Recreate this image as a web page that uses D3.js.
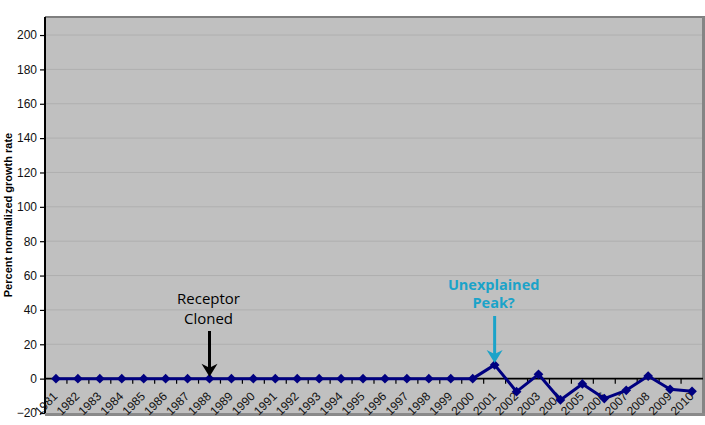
<!DOCTYPE html>
<html><head><meta charset="utf-8">
<script src="https://cdn.jsdelivr.net/npm/d3@7"></script>
<style>body{margin:0;background:#fff}svg{display:block}</style>
</head><body>
<svg id="c" width="705" height="425"></svg>
<script>
const years = ["1981","1982","1983","1984","1985","1986","1987","1988","1989","1990","1991","1992","1993","1994","1995","1996","1997","1998","1999","2000","2001","2002","2003","2004","2005","2006","2007","2008","2009","2010"];
const values = [0,0,0,0,0,0,0,0,0,0,0,0,0,0,0,0,0,0,0,0,8,-7.6,2.5,-12.4,-3.1,-11.6,-6.8,1.5,-6.2,-7.4];
const yTicks = [-20,0,20,40,60,80,100,120,140,160,180,200];
const annotations = [
  {year:"1988", value:0, lines:["Receptor","Cloned"], color:"#000", weight:"normal"},
  {year:"2001", value:8, lines:["Unexplained","Peak?"], color:"#1ba3c9", weight:"bold"}
];

const svg = d3.select("#c");
const L=45, R=703, T=17, B=413;
const x = d3.scaleBand().domain(years).range([L,R]).padding(0);
const y = d3.scaleLinear().domain([-20,210.5]).range([B,T]);
const cx = d => x(d)+x.bandwidth()/2;
const FONT = "Liberation Sans, Arial, sans-serif";

svg.append("rect").attr("x",L).attr("y",T).attr("width",R-L).attr("height",B-T).attr("fill","#c0c0c0");
svg.append("g").selectAll("line").data(yTicks.filter(v=>v>-20)).join("line")
  .attr("x1",L).attr("x2",R).attr("y1",d=>y(d)).attr("y2",d=>y(d))
  .attr("stroke","#afafaf").attr("stroke-width",1);
svg.append("line").attr("x1",L).attr("x2",705).attr("y1",T).attr("y2",T).attr("stroke","#7f7f7f").attr("stroke-width",2);
svg.append("line").attr("x1",703.5).attr("x2",703.5).attr("y1",T).attr("y2",B+2).attr("stroke","#858585").attr("stroke-width",3);
svg.append("line").attr("x1",L).attr("x2",705).attr("y1",B+1.5).attr("y2",B+1.5).attr("stroke","#8a8a8a").attr("stroke-width",3);

const ya = svg.append("g").attr("transform",`translate(${L},0)`)
  .call(d3.axisLeft(y).tickValues(yTicks).tickSize(5).tickPadding(3).tickFormat(d3.format("d")));
ya.select(".domain").attr("stroke","#000").attr("stroke-width",2).attr("d",`M0,${T}V${B}`);
ya.selectAll(".tick line").attr("stroke","#000").attr("stroke-width",1.2);
ya.selectAll("text").attr("font-family",FONT).attr("font-size",12).attr("fill","#111");

const xa = svg.append("g").attr("transform",`translate(0,${y(0)})`);
xa.append("line").attr("x1",L).attr("x2",R).attr("stroke","#000").attr("stroke-width",1.6);
xa.selectAll("line.tk").data(years.slice(1)).join("line").attr("class","tk")
  .attr("x1",d=>x(d)).attr("x2",d=>x(d)).attr("y1",0).attr("y2",5).attr("stroke","#000").attr("stroke-width",1.2);
xa.selectAll("text").data(years).join("text")
  .attr("transform",d=>`translate(${cx(d)-4},${12}) rotate(-45)`)
  .attr("text-anchor","end").attr("dy","0.75em")
  .attr("font-family",FONT).attr("font-size",12).attr("fill","#111")
  .text(d=>d);

svg.append("text").attr("transform",`translate(12,${(T+B)/2}) rotate(-90)`).attr("text-anchor","middle")
  .attr("font-family",FONT).attr("font-size",11).attr("font-weight","bold").attr("fill","#000")
  .text("Percent normalized growth rate");

const line = d3.line().x((d,i)=>cx(years[i])).y(d=>y(d));
svg.append("path").datum(values).attr("d",line).attr("fill","none").attr("stroke","#000080").attr("stroke-width",3).attr("stroke-linejoin","round");
svg.append("g").selectAll("path").data(values).join("path")
  .attr("transform",(d,i)=>`translate(${cx(years[i])},${y(d)})`)
  .attr("d",d3.symbol(d3.symbolDiamond2,60)()).attr("fill","#000080");

annotations.forEach(a=>{
  const ax = cx(a.year), tipY = y(a.value)-2;
  const g = svg.append("g");
  const isBold = a.weight==="bold";
  const base1 = isBold? 290 : 304;
  const lh = isBold? 17.5 : 19.5;
  a.lines.forEach((t,i)=>{
    g.append("text").attr("x",ax-1).attr("y",base1+i*lh).attr("text-anchor","middle")
      .attr("font-family","Open Sans, sans-serif").attr("font-size",isBold?14.5:15).attr("font-weight",a.weight)
      .attr("fill",a.color).text(t);
  });
  const top = isBold? 316 : 331;
  g.append("line").attr("x1",ax).attr("x2",ax).attr("y1",top).attr("y2",tipY-8).attr("stroke",a.color).attr("stroke-width",3);
  g.append("path").attr("d",`M${ax-8},${tipY-13}L${ax},${tipY-9}L${ax+8},${tipY-13}L${ax},${tipY}Z`).attr("fill",a.color);
});
</script>
</body></html>
